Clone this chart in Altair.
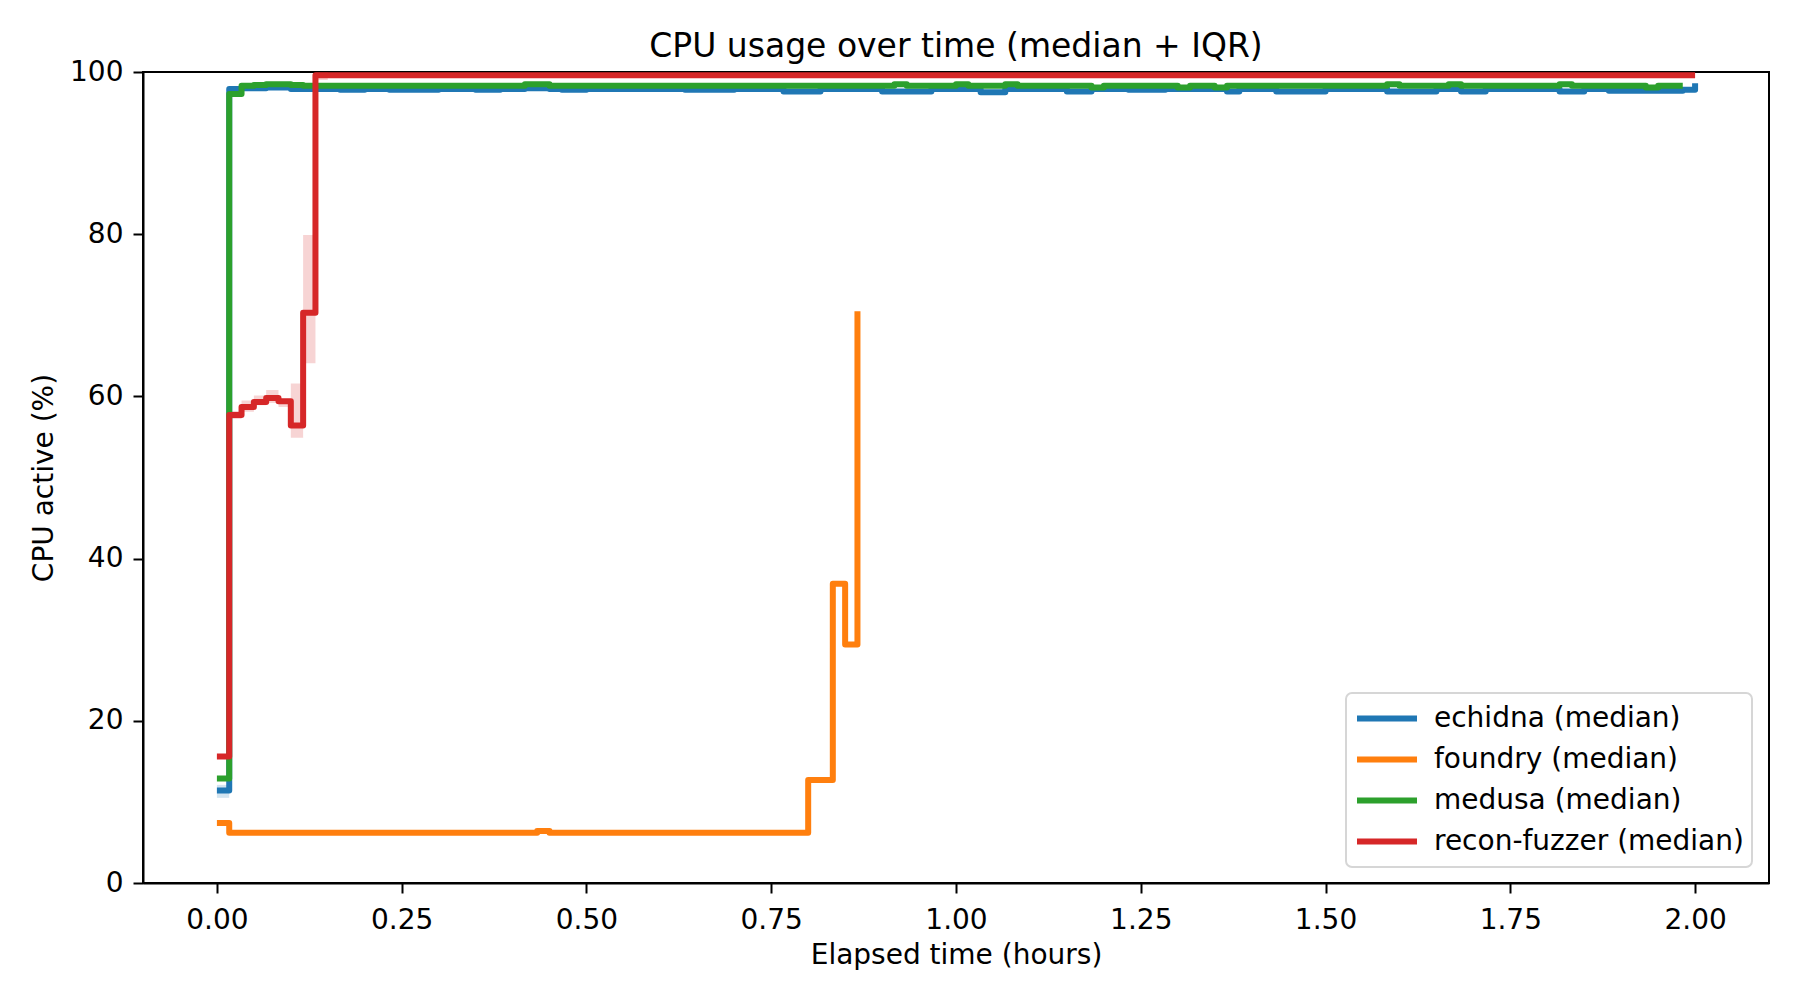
import altair as alt
import pandas as pd

series_names = ["echidna", "foundry", "medusa", "recon-fuzzer"]
series_colors = ["#1f77b4", "#ff7f0e", "#2ca02c", "#d62728"]

# step-change points (elapsed minutes) and median CPU %
echidna_min = [0, 1, 2, 4, 6, 10, 12, 14, 18, 21, 23, 25, 27, 28, 30, 38, 42, 46, 49, 54,
               58, 62, 64, 69, 71, 74, 77, 82, 83, 86, 90, 95, 99, 101, 103, 109, 111, 113, 119, 120]
echidna_val = [11.4, 97.9, 98.0, 98.1, 97.9, 97.8, 97.9, 97.8, 97.9, 97.8, 97.9, 98.0, 97.9, 97.8, 97.9, 97.8, 97.9, 97.6, 97.9, 97.6,
               97.9, 97.5, 97.9, 97.6, 97.9, 97.8, 97.9, 97.6, 97.9, 97.6, 97.9, 97.6, 97.9, 97.6, 97.9, 97.6, 97.9, 97.7, 97.8, 98.6]

foundry_min = [0, 1, 26, 27, 48, 50, 51, 52]
foundry_val = [7.4, 6.2, 6.4, 6.2, 12.7, 36.9, 29.4, 70.5]

medusa_min = [0, 1, 2, 3, 4, 6, 7, 25, 27, 55, 56, 60, 61, 64, 65, 71, 72, 78, 79, 81,
              82, 95, 96, 100, 101, 109, 110, 116, 117, 119]
medusa_val = [12.9, 97.3, 98.3, 98.4, 98.5, 98.4, 98.3, 98.5, 98.3, 98.5, 98.3, 98.5, 98.3, 98.5, 98.3, 98.1, 98.3, 98.1, 98.3, 98.1,
              98.3, 98.5, 98.3, 98.5, 98.3, 98.5, 98.3, 98.1, 98.3, 98.3]

recon_min = [0, 1, 2, 3, 4, 5, 6, 7, 8, 120]
recon_val = [15.6, 57.7, 58.7, 59.3, 59.8, 59.4, 56.4, 70.3, 99.6, 99.6]

# IQR bands (visible parts)
echidna_band_min = [0, 1]
echidna_band_lo = [10.5, 10.5]
echidna_band_hi = [12.1, 12.1]

recon_band_min = [0, 1, 2, 3, 4, 5, 6, 7, 8, 9]
recon_band_lo = [15.4, 57.2, 58.1, 58.9, 59.2, 58.7, 54.9, 64.1, 99.0, 99.0]
recon_band_hi = [15.8, 58.2, 59.5, 60.1, 60.8, 59.7, 61.6, 79.9, 100.0, 100.0]

x_ticks = [0, 0.25, 0.5, 0.75, 1.0, 1.25, 1.5, 1.75, 2.0]
y_ticks = [0, 20, 40, 60, 80, 100]

rows = []
for name, mins, vals in [("echidna", echidna_min, echidna_val),
                         ("foundry", foundry_min, foundry_val),
                         ("medusa", medusa_min, medusa_val),
                         ("recon-fuzzer", recon_min, recon_val)]:
    for m, v in zip(mins, vals):
        rows.append({"series": name, "hours": m / 60.0, "cpu": v})
df = pd.DataFrame(rows)

brows = []
for name, mins, lo, hi in [("echidna", echidna_band_min, echidna_band_lo, echidna_band_hi),
                           ("recon-fuzzer", recon_band_min, recon_band_lo, recon_band_hi)]:
    for m, a, b in zip(mins, lo, hi):
        brows.append({"series": name, "hours": m / 60.0, "lo": a, "hi": b})
bdf = pd.DataFrame(brows)

FONT = "DejaVu Sans"
x_scale = alt.Scale(domain=[-0.1, 2.1], nice=False, zero=False)
y_scale = alt.Scale(domain=[0, 100], nice=False)
color_scale = alt.Scale(domain=series_names, range=series_colors)

x_axis = alt.Axis(title="Elapsed time (hours)", values=x_ticks, format=".2f", grid=False)
y_axis = alt.Axis(title="CPU active (%)", values=y_ticks, grid=False)

bands = alt.Chart(bdf).mark_area(interpolate="step-after", opacity=0.2).encode(
    x=alt.X("hours:Q", scale=x_scale, axis=x_axis),
    y=alt.Y("lo:Q", scale=y_scale, axis=y_axis),
    y2="hi:Q",
    color=alt.Color("series:N", scale=color_scale, legend=None),
)

lines = alt.Chart(df).mark_line(
    interpolate="step-after", strokeWidth=6, strokeJoin="round", strokeCap="butt"
).encode(
    x=alt.X("hours:Q", scale=x_scale, axis=x_axis),
    y=alt.Y("cpu:Q", scale=y_scale, axis=y_axis),
    color=alt.Color(
        "series:N", scale=color_scale,
        legend=alt.Legend(
            title=None, orient="none", legendX=1203, legendY=621,
            symbolType="stroke", symbolSize=3600, symbolStrokeWidth=6,
            labelFontSize=28, labelFont=FONT, labelColor="black", labelLimit=600,
            labelOffset=14, padding=8, fillColor="white", strokeColor="#d6d6d6",
            cornerRadius=6, rowPadding=6, clipHeight=35,
            labelExpr="datum.label + ' (median)'",
        ),
    ),
)

chart = alt.layer(bands, lines).resolve_legend(color="independent").properties(
    width=1626, height=811,
    padding={"left": 143, "top": 72, "right": 31, "bottom": 117},
    autosize=alt.AutoSizeParams(type="none"),
    background="white",
    title=alt.TitleParams("CPU usage over time (median + IQR)", fontSize=33, font=FONT,
                          fontWeight="normal", color="black", anchor="middle", offset=-6),
).configure_view(stroke="black", strokeWidth=2).configure_axis(
    domainColor="black", domainWidth=2, tickColor="black", tickWidth=2, tickSize=10,
    labelFont=FONT, labelFontSize=28, labelColor="black",
    titleFont=FONT, titleFontSize=28, titleColor="black", titleFontWeight="normal",
).configure_axisX(labelPadding=13, titlePadding=7).configure_axisY(
    labelPadding=10, titlePadding=11
).configure_legend(strokeWidth=2)

chart.save("out.html", embed_options={"renderer": "svg", "actions": False})
